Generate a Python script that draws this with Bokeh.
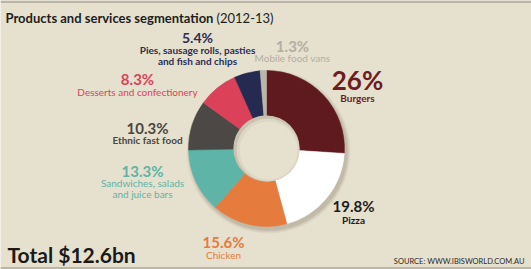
import numpy as np
from bokeh.plotting import figure
from bokeh.models import Range1d, ColumnDataSource
from bokeh.core.properties import value
from bokeh.embed import file_html
from bokeh.resources import INLINE

W, H = 531, 269

categories = ["Burgers", "Pizza", "Chicken", "Sandwiches, salads and juice bars",
              "Ethnic fast food", "Desserts and confectionery",
              "Pies, sausage rolls, pasties and fish and chips", "Mobile food vans"]
shares = [26.0, 19.8, 15.6, 13.3, 10.3, 8.3, 5.4, 1.3]
pct_labels = ["26%", "19.8%", "15.6%", "13.3%", "10.3%", "8.3%", "5.4%", "1.3%"]
colors = ["#5e1a1e", "#ffffff", "#e67b3e", "#5eb4a6", "#4b4845", "#db4158", "#252b50", "#bbb6a9"]
text_colors = ["#6c1c22", "#1c1c1c", "#e67b3e", "#5eb4a6", "#4a4642", "#d9435a", "#2b2f55", "#b3aea3"]
name_lines = [["Burgers"], ["Pizza"], ["Chicken"], ["Sandwiches, salads", "and juice bars"],
              ["Ethnic fast food"], ["Desserts and confectionery"],
              ["Pies, sausage rolls, pasties", "and fish and chips"], ["Mobile food vans"]]
title_main = "Products and services segmentation"
title_year = "(2012-13)"
total_text = "Total $12.6bn"
source_text = "SOURCE: WWW.IBISWORLD.COM.AU"

BG = "#e6e0ce"
FONT = "Lato"

def Y(y):
    return H - y

p = figure(width=W, height=H, x_range=Range1d(0, W), y_range=Range1d(0, H),
           output_backend="svg", toolbar_location=None, min_border=0)
p.axis.visible = False
p.grid.visible = False
p.outline_line_color = None
p.background_fill_color = BG
p.border_fill_color = BG

# top / bottom rules
p.quad(left=[0, 0], right=[W, W], bottom=[Y(2.5), Y(H)], top=[Y(0), Y(266.5)],
       fill_color="#bab5a7", line_color=None)

cx, cy = 266, Y(148)
R_OUT, R_IN = 78, 33

# soft shadow
for dr, a in [(4, 0.05), (3, 0.07), (2, 0.09), (1, 0.12)]:
    p.circle(x=[cx + 2], y=[cy - 3], radius=R_OUT + dr, radius_units="screen",
             fill_color="#6b6455", fill_alpha=a, line_color=None)

frac = np.array(shares) / np.sum(shares)
cum = np.concatenate([[0], np.cumsum(frac)])
start = np.pi / 2 - 2 * np.pi * cum[:-1]
end = np.pi / 2 - 2 * np.pi * cum[1:]
src = ColumnDataSource(dict(x=[cx] * len(shares), y=[cy] * len(shares),
                            start=start, end=end, color=colors, cat=categories))
p.annular_wedge(x="x", y="y", inner_radius=R_IN, outer_radius=R_OUT,
                inner_radius_units="screen", outer_radius_units="screen",
                start_angle="start", end_angle="end", direction="clock",
                fill_color="color", line_color="color", line_width=0.5, source=src)

# inner hole with inset shading
p.circle(x=[cx], y=[cy], radius=R_IN, radius_units="screen",
         fill_color="#c9c2b0", line_color=None)
p.circle(x=[cx + 1.5], y=[cy - 1.5], radius=R_IN - 1.5, radius_units="screen",
         fill_color="#ddd6c4", line_color=None)
p.circle(x=[cx + 2], y=[cy - 2], radius=R_IN - 4, radius_units="screen",
         fill_color=BG, line_color=None)

# label layout (center x, pct y, first name line y, pct font size)
layout = [
    (357, 79, 97, 26),
    (353, 205, 219, 15),
    (223, 241, 254, 15),
    (142, 170, 182, 15),
    (147, 127, 139, 15),
    (137, 78, 91, 15),
    (197, 37, 49, 14),
    (292, 45, 57, 15),
]
bold_names = {0, 1, 6, 4}
for i, (lx, py, ny, fs) in enumerate(layout):
    p.text(x=[lx], y=[Y(py)], text=[pct_labels[i]], text_align="center",
           text_baseline="middle", text_font=value(FONT), text_font_style="bold",
           text_font_size=f"{fs}px", text_color=text_colors[i])
    for j, line in enumerate(name_lines[i]):
        p.text(x=[lx], y=[Y(ny + 11.5 * j)], text=[line], text_align="center",
               text_baseline="middle", text_font=value(FONT),
               text_font_style="bold" if i in bold_names else "normal",
               text_font_size="10px", text_color=text_colors[i])

# title
p.text(x=[5], y=[Y(17)], text=[title_main], text_align="left", text_baseline="middle",
       text_font=value(FONT), text_font_style="bold", text_font_size="13px",
       text_color="#1e1e1e")
p.text(x=[216], y=[Y(17)], text=[title_year], text_align="left", text_baseline="middle",
       text_font=value(FONT), text_font_size="13px", text_color="#1e1e1e")

# total & source
p.text(x=[7], y=[Y(254)], text=[total_text], text_align="left", text_baseline="middle",
       text_font=value(FONT), text_font_style="bold", text_font_size="21px",
       text_color="#1a1a1a")
p.text(x=[524], y=[Y(261)], text=[source_text], text_align="right", text_baseline="middle",
       text_font=value(FONT), text_font_size="7.5px", text_color="#2a2a2a")

open("out.html", "w").write(file_html(p, INLINE))
